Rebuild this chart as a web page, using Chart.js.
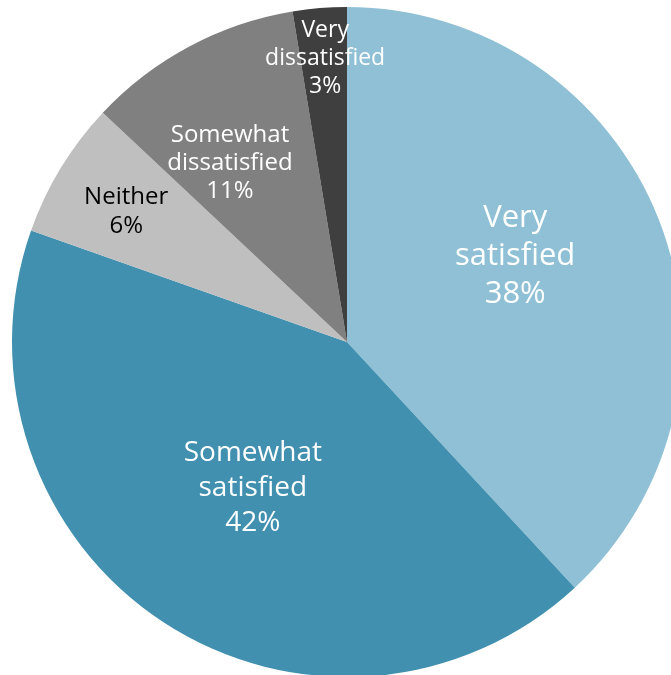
<!DOCTYPE html>
<html>
<head>
<meta charset="utf-8">
<script src="https://cdn.jsdelivr.net/npm/chart.js@4"></script>
<style>
  html, body { margin: 0; padding: 0; background: #fff; overflow: hidden; }
  #wrap { position: absolute; left: 0; top: 0; width: 694px; height: 684px; }
</style>
</head>
<body>
<div id="wrap"><canvas id="pie" width="694" height="684"></canvas></div>
<script>
// Slices, clockwise from 12 o'clock
const categories = ["Very satisfied", "Somewhat satisfied", "Neither", "Somewhat dissatisfied", "Very dissatisfied"];
const shares = [38.1, 42.3, 6.6, 10.4, 2.6];
const percentLabels = ["38%", "42%", "6%", "11%", "3%"];

// label text broken into lines as in the original
const labelLines = [
  ["Very", "satisfied"],
  ["Somewhat", "satisfied"],
  ["Neither"],
  ["Somewhat", "dissatisfied"],
  ["Very", "dissatisfied"]
];

const sliceColors = ["#8fc0d5", "#4190b0", "#bfbfbf", "#808080", "#3f3f3f"];
const textColors = ["#ffffff", "#ffffff", "#000000", "#ffffff", "#ffffff"];
const fontSizes = [31, 28, 24, 24, 23];
const lineGaps = [38, 35, 29, 28, 28];
// label centre: angle (deg, clockwise from top) and fraction of radius
const labelAngle = [62.9, 212.8, 300.5, 326.8, 355.6];
const labelDist = [0.564, 0.519, 0.765, 0.638, 0.85];

const FONT = '"Open Sans", "Noto Sans", sans-serif';

// draws the in-slice labels
const sliceLabels = {
  id: "sliceLabels",
  afterDatasetsDraw(chart) {
    const ctx = chart.ctx;
    const arc = chart.getDatasetMeta(0).data[0];
    const cx = arc.x, cy = arc.y, r = arc.outerRadius;
    ctx.save();
    ctx.textAlign = "center";
    ctx.textBaseline = "middle";
    categories.forEach((name, i) => {
      const a = labelAngle[i] * Math.PI / 180;
      const x = cx + Math.sin(a) * r * labelDist[i];
      const y = cy - Math.cos(a) * r * labelDist[i];
      const lines = labelLines[i].concat([percentLabels[i]]);
      const top = y - (lines.length - 1) * lineGaps[i] / 2;
      ctx.fillStyle = textColors[i];
      ctx.font = fontSizes[i] + "px " + FONT;
      lines.forEach((t, k) => ctx.fillText(t, x, top + k * lineGaps[i]));
    });
    ctx.restore();
  }
};

new Chart(document.getElementById("pie"), {
  type: "pie",
  data: {
    labels: categories,
    datasets: [{
      data: shares,
      backgroundColor: sliceColors,
      borderWidth: 0
    }]
  },
  options: {
    responsive: false,
    animation: false,
    layout: { padding: 7 },
    plugins: {
      legend: { display: false },
      tooltip: { enabled: false }
    }
  },
  plugins: [sliceLabels]
});
</script>
</body>
</html>
